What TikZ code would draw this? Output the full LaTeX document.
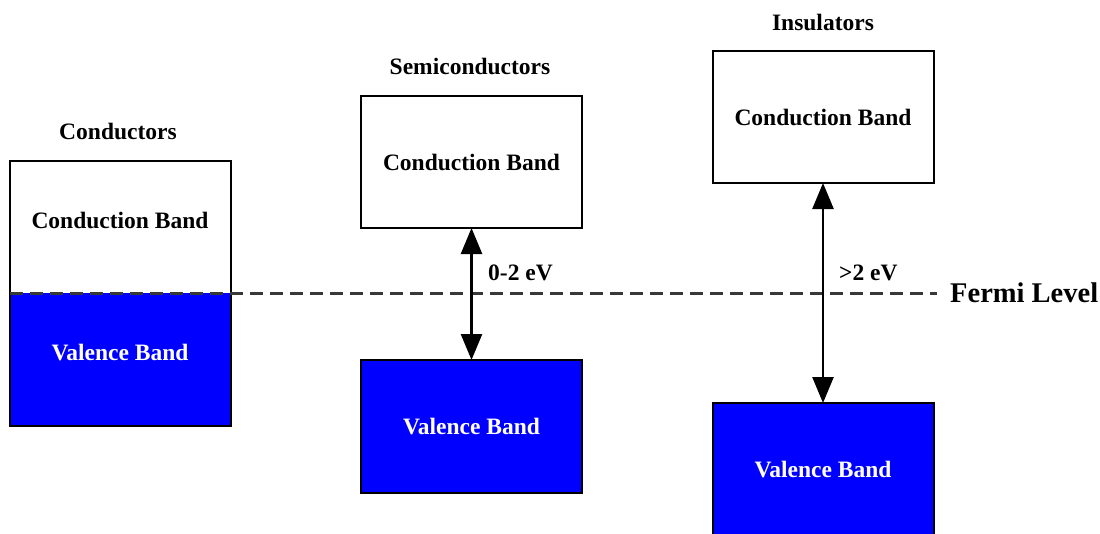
\documentclass[tikz,border=0pt]{standalone}
\usepackage{fontspec}
\setmainfont{Liberation Serif}
\usetikzlibrary{arrows.meta,fit}
\begin{document}
\begin{tikzpicture}[x=1pt,y=-1pt,
  lbl/.style={font=\fontsize{23.5}{28}\selectfont\bfseries, inner sep=0pt},
  wlbl/.style={lbl, text=white},
  band/.style={minimum width=221pt, inner sep=0pt, outer sep=0pt},
  boxed/.style={band, draw=black, line width=2pt, font=\fontsize{23.5}{28}\selectfont\bfseries},
  cband/.style={boxed, fill=white},
  vband/.style={boxed, fill=blue, text=white},
  gaparrow/.style={line width=2.5pt, {Triangle[length=26pt,width=21pt]}-{Triangle[length=26pt,width=21pt]}},
  fermi/.style={draw=black!78, line width=3pt, dash pattern=on 13pt off 7pt}]
\useasboundingbox (0,0) rectangle (1100,533);
\clip (0,0) rectangle (1100,533);
% Conductors
\node[lbl] (ctitle) at (118,131) {Conductors};
\node[band, fill=white, minimum height=132pt] (cu) at (120.5,227) {};
\node[band, fill=blue, minimum height=133pt] (cl) at (120.5,359.5) {};
\node[draw=black, line width=2pt, fit=(cu)(cl), inner sep=0pt] (cframe) {};
\node[lbl] (ccbt) at (120,220) {Conduction Band};
\node[wlbl] (cvbt) at (120,353) {Valence Band};
% Semiconductors
\node[lbl] (stitle) at (470,66) {Semiconductors};
\node[cband, minimum height=132pt] (scb) at (471.5,162) {Conduction Band};
\node[vband, minimum height=133pt] (svb) at (471.5,426.5) {Valence Band};
% Insulators
\node[lbl] (ititle) at (823,22) {Insulators};
\node[cband, minimum height=132pt] (icb) at (823,117) {Conduction Band};
\node[vband, minimum height=134pt] (ivb) at (823,470) {Valence Band};
% Fermi level
\node[font=\fontsize{28.5}{32}\selectfont\bfseries, inner sep=0pt, anchor=west] (fl) at (950,293) {Fermi Level};
\coordinate (fs) at (10,293);
\coordinate (fe) at (937,293);
\draw[fermi] (fs) -- (fe);
% gaps
\draw[gaparrow] (scb.south) -- (svb.north);
\node[lbl, anchor=west] (sgap) at (488,273) {0-2 eV};
\draw[gaparrow] (icb.south) -- (ivb.north);
\node[lbl, anchor=west] (igap) at (839,273) {>2 eV};
\end{tikzpicture}
\end{document}
